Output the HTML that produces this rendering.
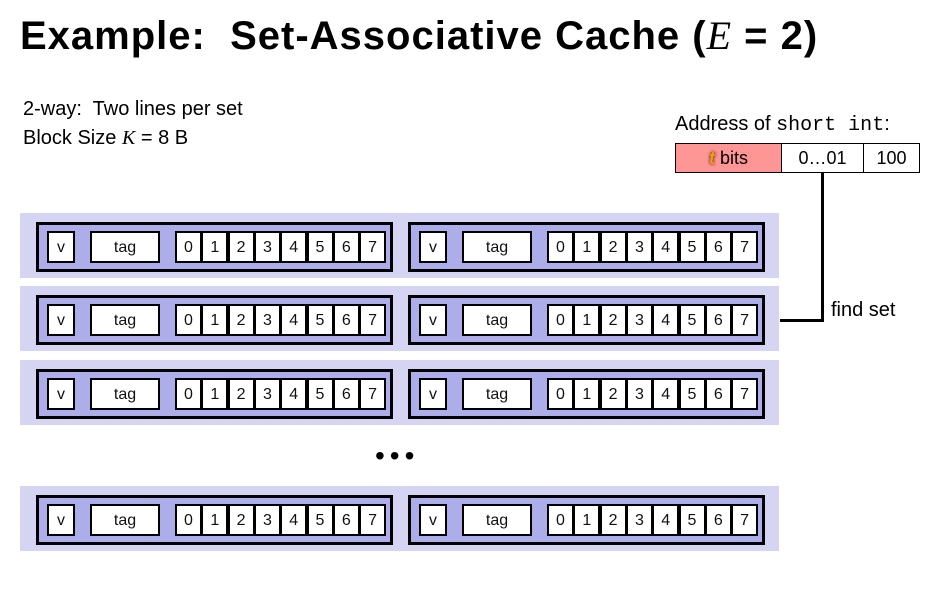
<!DOCTYPE html>
<html><head><meta charset="utf-8"><style>
body{margin:0;width:935px;height:610px;background:#fff;position:relative;overflow:hidden;font-family:"Liberation Sans","DejaVu Sans",sans-serif;}
.a{position:absolute;box-sizing:border-box;}
.band{background:#d5d5f3;}
.line{background:#adadea;border:3px solid #000;}
.cell{background:#fff;border:2.5px solid #000;display:flex;align-items:center;justify-content:center;font-size:16px;color:#111;padding-top:2px;}
.t{position:absolute;white-space:nowrap;color:#000;}
</style></head><body>
<div class="t" style="left:20px;top:12px;font-size:40px;font-weight:bold;letter-spacing:1px">Example:&nbsp; Set-Associative Cache (<span style="font-family:'Liberation Serif',serif;font-style:italic;font-weight:normal">E</span> = 2)</div>
<div class="t" style="left:23px;top:98px;font-size:20px">2-way:&nbsp; Two lines per set</div>
<div class="t" style="left:23px;top:127px;font-size:20px">Block Size <i style="font-family:'Liberation Serif',serif">K</i> = 8 B</div>
<div class="t" style="left:675px;top:113px;font-size:20px">Address of <span style="font-family:'Liberation Mono',monospace">short&nbsp;int</span>:</div>
<div class="a" style="left:675px;top:143px;width:107px;height:30px;background:#ff9696;border:1px solid #000;font-size:18px;text-align:center;line-height:28px"><b style="color:#f90;font-style:italic;text-shadow:0 0 3px #000">t</b> bits</div>
<div class="a" style="left:781px;top:143px;width:83px;height:30px;border:1px solid #000;font-size:18px;text-align:center;line-height:28px">0…01</div>
<div class="a" style="left:863px;top:143px;width:57px;height:30px;border:1px solid #000;font-size:18px;text-align:center;line-height:28px">100</div>
<div class="a" style="left:821px;top:173px;width:3px;height:149px;background:#000"></div>
<div class="a" style="left:780px;top:319px;width:44px;height:3px;background:#000"></div>
<div class="t" style="left:831px;top:299px;font-size:20px">find set</div>
<div class="t" style="left:375px;top:440px;font-size:28px;letter-spacing:5px">•••</div>
<div id="sets"></div>
<script>
const setTops=[213,286,360,486];
const byteLabels=['0','1','2','3','4','5','6','7'];
const root=document.getElementById('sets');
function mk(cls,l,t,w,h,txt){const d=document.createElement('div');d.className='a '+cls;d.style.left=l+'px';d.style.top=t+'px';d.style.width=w+'px';d.style.height=h+'px';if(txt!==undefined)d.textContent=txt;root.appendChild(d);return d;}
setTops.forEach((top,si)=>{
  const b=mk('band',20,top,759,65);
  
  
  [36,408].forEach((lx)=>{
    const ln=mk('line',lx,top+9,357,50);
    
    
    const v=mk('cell',lx+11,top+18,28,32,'v');
    
    
    const tg=mk('cell',lx+54,top+18,70,32,'tag');
    
    
    byteLabels.forEach((lab,i)=>{
      const c=mk('cell',lx+139+i*26.3,top+18,27,32,lab);
      
      
    });
  });
});
</script>
</body></html>
